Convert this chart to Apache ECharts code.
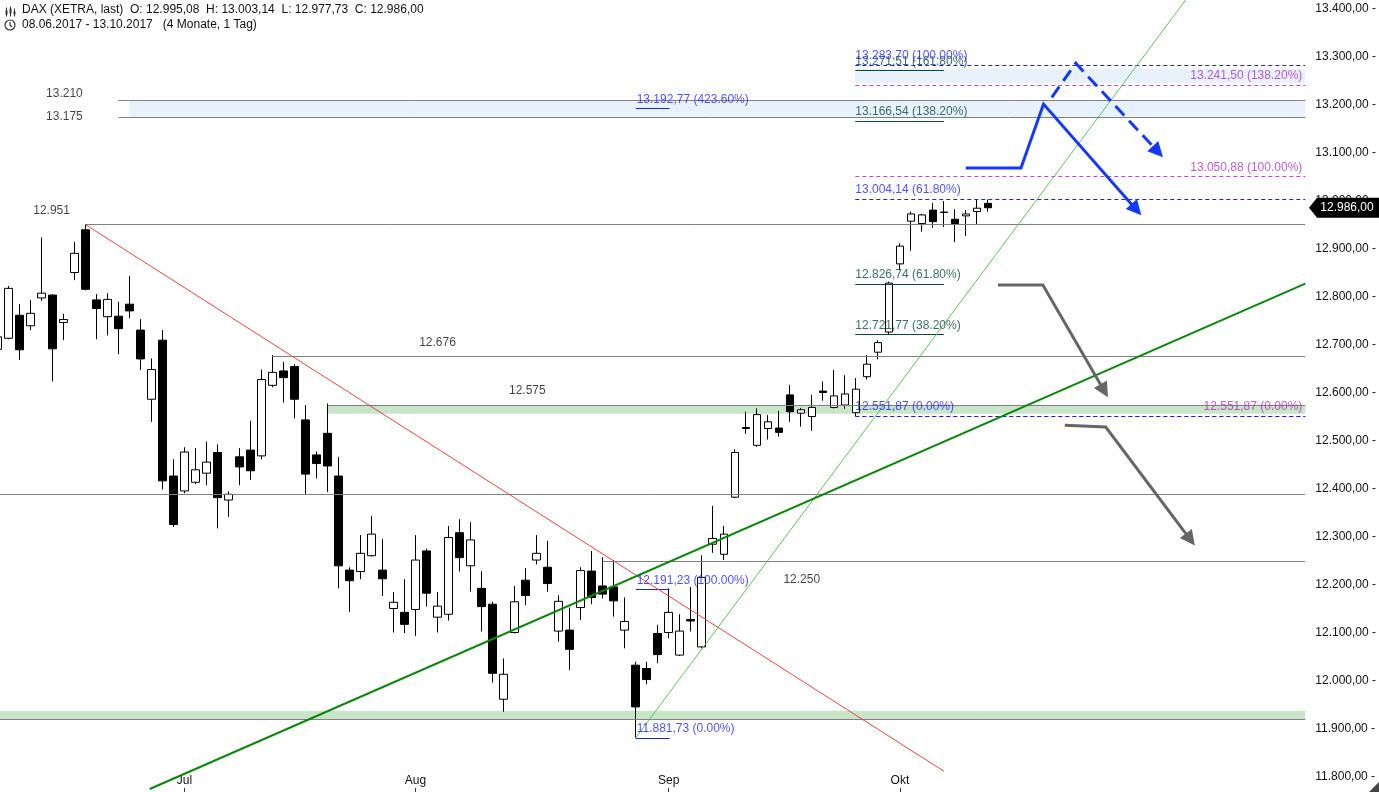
<!DOCTYPE html>
<html><head><meta charset="utf-8">
<script src="https://cdn.jsdelivr.net/npm/echarts@6/dist/echarts.min.js"></script>
<style>html,body{margin:0;padding:0;background:#fff}#c{width:1379px;height:792px}</style>
</head><body><div id="c"></div><script>
// ---------------- data ----------------
const monthLabels = ['Jul', 'Aug', 'Sep', 'Okt'];
const monthIdx = [17, 38, 61, 82];
const yTicks = [11800,11900,12000,12100,12200,12300,12400,12500,12600,12700,12800,12900,13000,13100,13200,13300,13400];

const open = [12691,12714,12762,12740,12798,12804,12747,12851,12940,12794,12759,12760,12785,12731,12587,12710,12427,12396,12414,12433,
 12476,12377,12467,12481,12469,12616,12646,12655,12544,12471,12516,12427,12231,12228,12261,12231,12151,12143,12149,12271,
 12133,12139,12309,12240,12193,12160,11962,12101,12210,12252,12237,12104,12106,12153,12229,12198,12196,12106,12033,12026,
 12099,12101,12054,12128,12071,12285,12264,12383,12528,12491,12526,12527,12596,12558,12551,12604,12570,12575,12559,12634,
 12685,12727,12869,12958,12953,12981,12977,12962,12969,12978,12995.08];
const high = [12725,12823,12785,12794,12924,12806,12765,12915,12951,12806,12808,12790,12844,12754,12672,12731,12462,12487,12485,12499,
 12493,12395,12485,12542,12649,12679,12665,12660,12575,12478,12578,12467,12237,12304,12344,12296,12185,12212,12304,12276,
 12185,12323,12337,12331,12229,12165,12047,12198,12235,12304,12292,12179,12153,12237,12271,12258,12252,12174,12040,12040,
 12117,12193,12139,12196,12262,12365,12323,12483,12561,12568,12554,12563,12617,12569,12596,12624,12648,12637,12631,12679,
 12710,12832,12912,12978,12973,12996,13000,12983,12981,13004,13003.14];
const low = [12680,12712,12669,12731,12792,12624,12710,12835,12814,12712,12720,12681,12756,12648,12540,12399,12321,12391,12410,12408,
 12318,12342,12408,12419,12462,12612,12580,12547,12389,12422,12394,12193,12144,12212,12259,12177,12101,12100,12094,12155,
 12101,12126,12228,12186,12103,11997,11936,12099,12158,12243,12186,12082,12023,12127,12160,12172,12134,12068,11882,11993,
 12037,12089,12052,12103,12068,12267,12252,12381,12515,12488,12503,12509,12540,12530,12521,12584,12568,12567,12552,12628,
 12670,12722,12856,12896,12936,12944,12946,12914,12927,12950,12977.73];
const close = [12717,12818,12690,12766,12808,12692,12753,12891,12816,12776,12795,12734,12771,12671,12649,12417,12326,12477,12440,12456,
 12382,12389,12446,12438,12628,12643,12632,12587,12431,12453,12448,12240,12209,12266,12306,12213,12164,12118,12252,12183,
 12156,12299,12257,12294,12155,12016,12014,12165,12178,12266,12203,12166,12066,12230,12174,12181,12167,12124,11946,12003,
 12055,12143,12104,12125,12216,12297,12306,12476,12526,12555,12540,12518,12561,12565,12570,12601,12594,12598,12608,12660,
 12705,12829,12906,12973,12971,12957,12976,12953,12973,12985,12986];
const lastPrice = 12986;

// horizontal levels (value, start index on the time axis; null = from left edge)
const levelVals = [13210, 13175, 12951, 12676, 12575, 12390, 12250, 11921];
const levelFrom = [11, 11, 8, 25, 30, null, 55, null];
// labelled levels
const levelTextVals = [13210, 13175, 12951, 12676, 12575, 12250];
const levelTextIdx = [7.77, 7.77, 6.6, 38.33, 46.49, 71.42];

// shaded zones
const zoneLo = [13175, 13246, 12557, 11921];
const zoneHi = [13210, 13276, 12575, 11938];
const zoneFrom = [12, 77.95, 30, null];

// Fibonacci tools
const fibAVals = [11881.73, 12191.23, 13192.77]; const fibAPct = [0, 100, 423.6];
const fibBVals = [12551.87, 13004.14, 13283.70]; const fibBPct = [0, 61.8, 100];
const fibCVals = [12551.87, 13050.88, 13241.50]; const fibCPct = [0, 100, 138.2];
const fibDVals = [12721.77, 12826.74, 13166.54, 13271.51]; const fibDPct = [38.2, 61.8, 138.2, 161.8];

// trend lines [index, value]
const redLine = [[8, 12951], [86, 11812]];
const greenThick = [[13.85, 11775], [118.83, 12828]];
const greenThin = [[58, 11881.73], [108, 13420]];

// hand-drawn scenario arrows [index, value]
const arrowBlueSolid = [[87.98, 13069], [93.0, 13069], [95.05, 13202], [103.9, 12971]];
const arrowBlueDashed = [[95.8, 13216], [97.98, 13287], [105.87, 13092]];
const arrowGrayUpper = [[90.91, 12825], [94.99, 12825], [100.88, 12592]];
const arrowGrayLower = [[96.98, 12533], [100.7, 12529], [108.77, 12283]];

// ---------------- layout ----------------
const X_MIN = 0.249, X_MAX = 118.83, Y_MIN = 11768.75, Y_MAX = 13418.75;
const PLOT_W = 1308, PLOT_H = 792;
const PX_IDX = PLOT_W / (X_MAX - X_MIN), PX_PT = PLOT_H / (Y_MAX - Y_MIN);
const FONT = "'Liberation Sans', Arial, sans-serif";
const BLUE = '#1f1ff2', PURPLE = '#ad30bf', DKGREEN = '#0a4a3b', GRAY = '#808080';

function fmtDE(v, d) {
  const s = v.toFixed(d);
  let [i, f] = s.split('.');
  i = i.replace(/\B(?=(\d{3})+(?!\d))/g, '.');
  return f ? i + ',' + f : i;
}
function pctTxt(p) { return p.toFixed(2) + '%'; }

const candles = open.map((o, i) => [i, o, close[i], low[i], high[i]]);

// markLines
const mLines = [];
levelVals.forEach((v, i) => {
  mLines.push([{ coord: [levelFrom[i] == null ? X_MIN : levelFrom[i], v], lineStyle: { color: GRAY, width: 1, type: 'solid' } },
               { coord: [X_MAX, v] }]);
});
function addFib(vals, from, to, color, type) {
  vals.forEach(v => mLines.push([{ coord: [from, v], lineStyle: { color, width: 1, type } }, { coord: [to, v] }]));
}
addFib(fibCVals, 77.95, X_MAX, '#c048c8', [4, 3]);
addFib(fibBVals, 77.95, X_MAX, '#2020e8', [4, 3]);
addFib(fibDVals, 77.95, 86.0, DKGREEN, 'solid');
addFib(fibAVals, 58.0, 61.08, '#2020e8', 'solid');

const mAreas = zoneLo.map((lo, i) => {
  const green = i >= 2;
  return [{ coord: [zoneFrom[i] == null ? X_MIN : zoneFrom[i], zoneHi[i]],
            itemStyle: { color: green ? 'rgba(0,130,0,0.21)' : 'rgba(0,110,225,0.09)' } },
          { coord: [X_MAX, lo] }];
});

// text annotations
const texts = [];
const levelTextStyle = [
  { align: 'right', verticalAlign: 'bottom', dy: 0 },
  { align: 'right', verticalAlign: 'middle', dy: 0 },
  { align: 'right', verticalAlign: 'bottom', dy: -7 },
  { align: 'left', verticalAlign: 'bottom', dy: -7 },
  { align: 'left', verticalAlign: 'bottom', dy: -7 },
  { align: 'left', verticalAlign: 'middle', dy: 19 }
];
levelTextVals.forEach((v, i) => {
  const st = levelTextStyle[i];
  texts.push({ value: [levelTextIdx[i], v], label: { formatter: fmtDE(v, 0), color: '#111', align: st.align, verticalAlign: st.verticalAlign, position: [0, st.dy] } });
});
function fibTexts(vals, pcts, idx, color, align) {
  vals.forEach((v, i) => texts.push({ value: [idx, v], label: { formatter: fmtDE(v, 2) + ' (' + pctTxt(pcts[i]) + ')', color, align, verticalAlign: 'bottom', position: [0, -2] } }));
}
fibTexts(fibAVals, fibAPct, 58.09, BLUE, 'left');
fibTexts(fibDVals, fibDPct, 77.95, DKGREEN, 'left');
fibTexts(fibBVals, fibBPct, 77.95, BLUE, 'left');
fibTexts(fibCVals, fibCPct, 118.56, PURPLE, 'right');

// arrows
function arrowParts(pts, back) {
  const a = pts[pts.length - 2], b = pts[pts.length - 1];
  const dx = (b[0] - a[0]) * PX_IDX, dy = (b[1] - a[1]) * PX_PT;
  const len = Math.hypot(dx, dy);
  const at = t => [b[0] - (b[0] - a[0]) * t / len, b[1] - (b[1] - a[1]) * t / len];
  const c = at(back), s = at(back + 3);
  return { body: pts.slice(0, -1).concat([c]), head: [s, c] };
}
const arrows = [
  { pts: arrowBlueSolid, color: '#1438ff', type: 'solid' },
  { pts: arrowBlueDashed, color: '#1438ff', type: [13, 7] },
  { pts: arrowGrayUpper, color: '#666666', type: 'solid' },
  { pts: arrowGrayLower, color: '#666666', type: 'solid' }
];
const arrowSeries = [];
arrows.forEach(a => {
  const p = arrowParts(a.pts, 7);
  arrowSeries.push({ type: 'line', data: p.body, showSymbol: false, symbol: 'none', silent: true, z: 6,
    lineStyle: { color: a.color, width: 3, type: a.type, cap: 'butt', join: 'miter' } });
  arrowSeries.push({ type: 'lines', coordinateSystem: 'cartesian2d', silent: true, z: 6, symbol: ['none', 'triangle'], symbolSize: 15,
    lineStyle: { color: a.color, width: 3, opacity: 1 }, data: [{ coords: p.head }] });
});

const chart = echarts.init(document.getElementById('c'), null, { renderer: 'canvas' });
chart.setOption({
  animation: false,
  backgroundColor: '#fff',
  textStyle: { fontFamily: FONT },
  grid: { left: 0, top: 0, width: PLOT_W, height: PLOT_H },
  xAxis: {
    type: 'value', min: X_MIN, max: X_MAX,
    axisLine: { show: false }, splitLine: { show: false },
    axisTick: { show: true, inside: true, length: 4, customValues: monthIdx, lineStyle: { color: '#333' } },
    axisLabel: { inside: true, margin: 5, customValues: monthIdx, color: '#111', fontSize: 12, fontFamily: FONT,
      formatter: v => monthLabels[monthIdx.indexOf(Math.round(v))] || '' }
  },
  yAxis: {
    type: 'value', position: 'right', min: Y_MIN, max: Y_MAX,
    axisLine: { show: false }, axisTick: { show: false }, splitLine: { show: false },
    axisLabel: { customValues: yTicks, margin: 10, color: '#111', fontSize: 12, fontFamily: FONT, padding: [0, 0, 5, 0],
      formatter: v => fmtDE(v, 2) + ' -' }
  },
  graphic: [
    { type: 'text', left: 22, top: 4, style: { text: 'DAX (XETRA, last)  O: 12.995,08  H: 13.003,14  L: 12.977,73  C: 12.986,00', font: '12px ' + FONT, fill: '#111' } },
    { type: 'text', left: 22, top: 19, style: { text: '08.06.2017 - 13.10.2017   (4 Monate, 1 Tag)', font: '12px ' + FONT, fill: '#111' } },
    { type: 'group', left: 4, top: 4, children: [
      { type: 'line', shape: { x1: 1, y1: 2, x2: 1, y2: 11 }, style: { stroke: '#333', lineWidth: 1 } },
      { type: 'rect', shape: { x: 0, y: 5, width: 2, height: 4 }, style: { fill: '#333' } },
      { type: 'line', shape: { x1: 5, y1: 1, x2: 5, y2: 11 }, style: { stroke: '#333', lineWidth: 1 } },
      { type: 'rect', shape: { x: 4, y: 3, width: 2, height: 5 }, style: { fill: '#333' } },
      { type: 'line', shape: { x1: 9, y1: 3, x2: 9, y2: 11 }, style: { stroke: '#333', lineWidth: 1 } },
      { type: 'rect', shape: { x: 8, y: 6, width: 2, height: 3 }, style: { fill: '#333' } }
    ] },
    { type: 'circle', shape: { cx: 10, cy: 25, r: 5 }, style: { fill: 'none', stroke: '#333', lineWidth: 1.2 } },
    { type: 'polyline', shape: { points: [[10, 22], [10, 25], [12, 27]] }, style: { stroke: '#333', lineWidth: 1.2, fill: 'none' } },
    { type: 'polygon', shape: { points: [[1379, 782], [1379, 792], [1369, 792]] }, style: { fill: '#444' } }
  ],
  series: [
    {
      type: 'candlestick', data: candles, barWidth: 8, z: 2, silent: true,
      itemStyle: { color: '#ffffff', color0: '#000000', borderColor: '#000000', borderColor0: '#000000', borderWidth: 1 }
    },
    {
      type: 'line', data: [], z: 3, silent: true,
      markLine: { silent: true, symbol: ['none', 'none'], label: { show: false }, data: mLines, animation: false }
    },
    {
      type: 'line', data: [], z: 4, silent: true,
      markArea: { silent: true, data: mAreas, animation: false },
      markPoint: { silent: true, animation: false, data: [{
        coord: [X_MAX - 1, lastPrice], x: 1344,
        symbol: 'path://M0,10 L9,0 L78,0 L78,20 L9,20 Z', symbolSize: [70, 20], symbolKeepAspect: false,
        itemStyle: { color: '#000' },
        label: { show: true, position: 'inside', offset: [3, 0], formatter: fmtDE(lastPrice, 2), color: '#fff', fontSize: 12, fontFamily: FONT }
      }] }
    },
    { type: 'line', data: redLine, showSymbol: false, symbol: 'none', silent: true, z: 5, lineStyle: { color: '#e04545', width: 1 } },
    { type: 'line', data: greenThin, showSymbol: false, symbol: 'none', silent: true, z: 5, lineStyle: { color: '#5cc35c', width: 1 } },
    { type: 'line', data: greenThick, showSymbol: false, symbol: 'none', silent: true, z: 5, lineStyle: { color: '#0a870a', width: 2 } },
    ...arrowSeries,
    {
      type: 'scatter', data: texts, symbolSize: 0, silent: true, z: 7,
      label: { show: true, fontSize: 12, fontFamily: FONT, lineHeight: 14 }
    }
  ]
});
</script></body></html>
